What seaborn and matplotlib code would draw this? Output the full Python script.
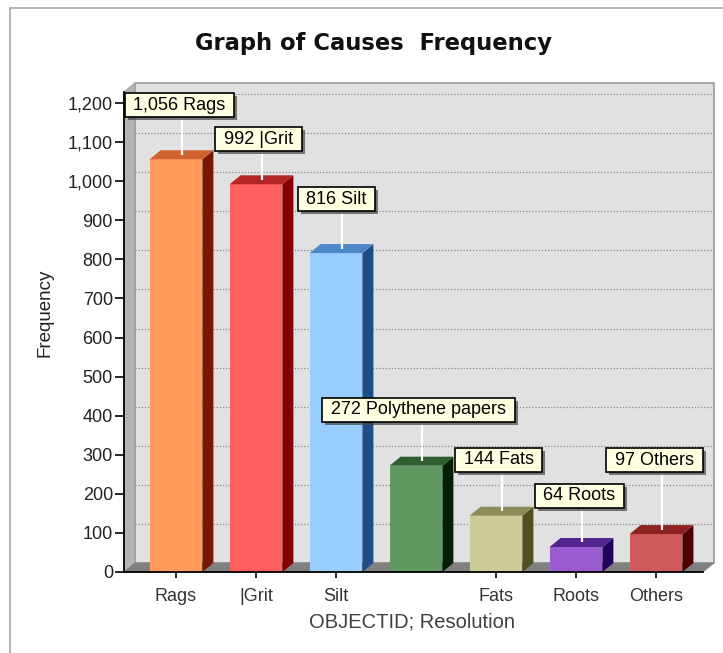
import matplotlib
matplotlib.use("Agg")
import matplotlib.pyplot as plt
import seaborn as sns
import pandas as pd
from matplotlib.patches import Polygon, Rectangle
from matplotlib.lines import Line2D
import matplotlib.patheffects as pe

# ---- data ----
categories = ["Rags", "|Grit", "Silt", "Polythene papers", "Fats", "Roots", "Others"]
frequencies = [1056, 992, 816, 272, 144, 64, 97]
tick_labels = ["Rags", "|Grit", "Silt", "", "Fats", "Roots", "Others"]
y_ticks = list(range(0, 1201, 100))

# ---- style ----
front_colors = ["#FF9A5A", "#FF5F5F", "#99CCFF", "#5F9960", "#CCCC99", "#9A5AD0", "#CE5A5A"]
top_colors = ["#D0622E", "#B52525", "#4D88C8", "#2F5E30", "#8C8C58", "#52248E", "#8E2222"]
side_colors = ["#7A1704", "#850000", "#1D4E8A", "#041F04", "#50501F", "#21005E", "#4E0000"]
label_dx = [-2, -3, -5, -3, -3, -2, -7]      # box shift, pixels
label_dy = [54, 45, 54, 56, 56, 51, 74]      # box height above bar top, pixels

sns.set_theme(style="white")
plt.rcParams["font.family"] = ["Liberation Sans", "DejaVu Sans"]

W, H, DPI = 723, 653, 100
fig = plt.figure(figsize=(W / DPI, H / DPI), dpi=DPI)
fig.patch.set_facecolor("white")

ax_left, ax_right, ax_bot, ax_top = 124, 703, 572, 92
ax = fig.add_axes([ax_left / W, (H - ax_bot) / H, (ax_right - ax_left) / W, (ax_bot - ax_top) / H])
ax.set_facecolor("none")

px_per_x = 80.0
px_per_y = 469.0 / 1200.0
xmin = -0.65
xmax = xmin + (ax_right - ax_left) / px_per_x
ytop = (ax_bot - ax_top) / px_per_y

DX, DY = 11, 9
ddx = DX / px_per_x
ddy = DY / px_per_y

df = pd.DataFrame({"cause": categories, "freq": frequencies})
sns.barplot(data=df, x="cause", y="freq", hue="cause", palette=front_colors,
            order=categories, hue_order=categories, width=0.66, saturation=1,
            legend=False, ax=ax, zorder=3, edgecolor="none", linewidth=0)
ax.set_xlim(xmin, xmax)
ax.set_ylim(0, ytop)

# back wall, side wall, floor
ax.add_patch(Rectangle((xmin + ddx, ddy), xmax - xmin, ytop, facecolor="#E1E1E1",
                       edgecolor="#9A9A9A", lw=1.2, zorder=0.5, clip_on=False))
ax.add_patch(Polygon([(xmin, 0), (xmin, ytop), (xmin + ddx, ytop + ddy), (xmin + ddx, ddy)],
                     closed=True, facecolor="#B4B4B4", edgecolor="#A0A0A0", lw=0.8,
                     zorder=0.6, clip_on=False))
for t in y_ticks[1:]:
    ax.plot([xmin + ddx, xmax + ddx], [t + ddy, t + ddy], color="#8A8A8A", lw=0.9,
            ls=(0, (1, 1.5)), zorder=0.7, clip_on=False)
ax.add_patch(Polygon([(xmin, 0), (xmax, 0), (xmax + ddx, ddy), (xmin + ddx, ddy)],
                     closed=True, facecolor="#808080", edgecolor="#808080", lw=0.5,
                     zorder=0.8, clip_on=False))

bars = sorted([p for p in ax.patches if isinstance(p, Rectangle) and p.get_zorder() == 3],
              key=lambda p: p.get_x())
for i, p in enumerate(bars):
    x0, w, h = p.get_x(), p.get_width(), p.get_height()
    ax.add_patch(Polygon([(x0 + w, 0), (x0 + w, h), (x0 + w + ddx, h + ddy), (x0 + w + ddx, ddy)],
                         closed=True, facecolor=side_colors[i], edgecolor="none", zorder=3,
                         clip_on=False))
    ax.add_patch(Polygon([(x0, h), (x0 + w, h), (x0 + w + ddx, h + ddy), (x0 + ddx, h + ddy)],
                         closed=True, facecolor=top_colors[i], edgecolor="none", zorder=3,
                         clip_on=False))

for i, (c, v) in enumerate(zip(categories, frequencies)):
    xc = i + ddx / 2
    y0 = v + ddy / 2
    ytxt = v + label_dy[i] / px_per_y
    ax.plot([xc, xc], [y0, ytxt], color="white", lw=1.6, zorder=9, clip_on=False,
            solid_capstyle="butt")
    t = ax.text(xc + label_dx[i] / px_per_x, ytxt, f" {v:,} {c} ", ha="center", va="center",
                fontsize=13, color="black", zorder=10, clip_on=False,
                bbox=dict(boxstyle="square,pad=0.2", fc="#FFFFE1", ec="black", lw=1.2))
    t.get_bbox_patch().set_path_effects([
        pe.SimplePatchShadow(offset=(2.2, -2.2), shadow_rgbFace="#444444", alpha=0.7),
        pe.Normal()])

# axes, ticks
xt = [i for i, l in enumerate(tick_labels) if l]
ax.set_xticks(xt)
ax.set_xticklabels([tick_labels[i] for i in xt])
ax.set_yticks(y_ticks)
ax.set_yticklabels([f"{t:,}" for t in y_ticks])
ax.tick_params(axis="x", bottom=True, length=4.5, width=1.2, color="black",
               labelsize=13, labelcolor="#333333", pad=7)
ax.tick_params(axis="y", left=True, length=6.5, width=1.2, color="black",
               labelsize=13, labelcolor="#222222", pad=1.5)
for s in ["top", "right"]:
    ax.spines[s].set_visible(False)
for s in ["left", "bottom"]:
    ax.spines[s].set_color("black")
    ax.spines[s].set_linewidth(1.3)
    ax.spines[s].set_zorder(4)
ax.grid(False)

ax.set_xlabel("OBJECTID; Resolution", fontsize=14.5, color="#404040")
ax.xaxis.set_label_coords((412 - ax_left) / (ax_right - ax_left), (ax_bot - 622) / (ax_bot - ax_top))
ax.xaxis.label.set_va("center")
ax.set_ylabel("Frequency", fontsize=13.5, color="#222222")
ax.yaxis.set_label_coords((45 - ax_left) / (ax_right - ax_left), (ax_bot - 313) / (ax_bot - ax_top))
ax.yaxis.label.set_va("center")

ax.set_title("Graph of Causes  Frequency", fontsize=16.3, fontweight="bold",
             family=["DejaVu Sans"], color="#111111",
             x=(373.5 - ax_left) / (ax_right - ax_left),
             y=(ax_bot - 52) / (ax_bot - ax_top), va="center", ha="center")

# outer frame
fig.add_artist(Line2D([10 / W, 1], [1 - 8 / H, 1 - 8 / H], color="#A8A8A8", lw=1.2))
fig.add_artist(Line2D([10 / W, 10 / W], [0, 1 - 8 / H], color="#A8A8A8", lw=1.2))

fig.savefig("out.png", dpi=DPI)
